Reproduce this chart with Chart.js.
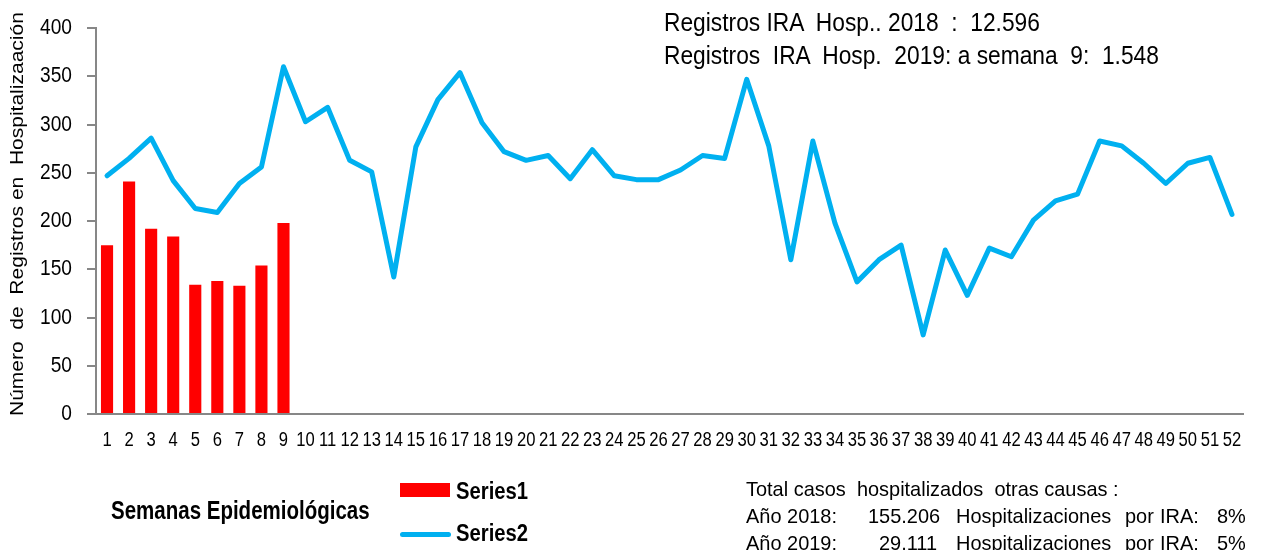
<!DOCTYPE html>
<html>
<head>
<meta charset="utf-8">
<script src="https://cdn.jsdelivr.net/npm/chart.js@4.4.1/dist/chart.umd.min.js"></script>
<style>
  html, body { margin: 0; padding: 0; background: #fff; }
  #wrap { position: relative; width: 1261px; height: 550px; overflow: hidden; }
  #c { position: absolute; left: 0; top: 0; }
  .t { position: absolute; font-family: "Liberation Sans", Arial, sans-serif; color: #000; white-space: pre; line-height: 1; transform-origin: 0 0; }
  .b { font-weight: bold; }
  .ann { font-size: 25.5px; transform: scaleX(0.893); }
  .leg { font-size: 23px; font-weight: bold; transform: scaleX(0.88); }
  .tot { font-size: 21px; transform: scaleX(0.95); }
  .sw { position: absolute; }
</style>
</head>
<body>
<div id="wrap">
  <canvas id="c" width="1261" height="550"></canvas>
  <div class="t ann" style="left:664px; top:9.5px;">Registros IRA  Hosp.. 2018  :  12.596</div>
  <div class="t ann" style="left:664px; top:42.5px;">Registros  IRA  Hosp.  2019: a semana  9:  1.548</div>

  <div class="t b" style="left:111px; top:498px; font-size:25px; transform:scaleX(0.82);">Semanas Epidemiológicas</div>

  <div class="sw" style="left:400px; top:483px; width:50px; height:14px; background:#FF0000;"></div>
  <div class="t leg" style="left:456px; top:479.5px;">Series1</div>
  <div class="sw" style="left:400px; top:532px; width:51px; height:5px; border-radius:3px; background:#00B0F0;"></div>
  <div class="t leg" style="left:456px; top:522px;">Series2</div>

  <div class="t tot" style="left:746px; top:478px;">Total casos  hospitalizados  otras causas :</div>
  <div class="t tot" style="left:746px; top:505px;">Año 2018:</div>
  <div class="t tot" style="left:868px; top:505px;">155.206</div>
  <div class="t tot" style="left:956px; top:505px;">Hospitalizaciones</div>
  <div class="t tot" style="left:1125px; top:505px;">por</div>
  <div class="t tot" style="left:1160px; top:505px;">IRA:</div>
  <div class="t tot" style="left:1217px; top:505px;">8%</div>
  <div class="t tot" style="left:746px; top:532px;">Año 2019:</div>
  <div class="t tot" style="left:879px; top:532px;">29.111</div>
  <div class="t tot" style="left:956px; top:532px;">Hospitalizaciones</div>
  <div class="t tot" style="left:1125px; top:532px;">por</div>
  <div class="t tot" style="left:1160px; top:532px;">IRA:</div>
  <div class="t tot" style="left:1217px; top:532px;">5%</div>
</div>
<script>
const weeks = ['1','2','3','4','5','6','7','8','9','10','11','12','13','14','15','16','17','18','19','20','21','22','23','24','25','26','27','28','29','30','31','32','33','34','35','36','37','38','39','40','41','42','43','44','45','46','47','48','49','50','51','52'];
const series1 = [175, 241, 192, 184, 134, 138, 133, 154, 198];
const series2 = [247, 265, 286, 242, 213, 209, 239, 256, 360, 303, 318, 263, 251, 142, 277, 326, 354,
                 302, 272, 263, 268, 244, 274, 247, 243, 243, 253, 268, 265, 347, 278, 160, 283, 198, 137,
                 160, 175, 82, 170, 123, 172, 163, 201, 221, 228, 283, 278, 260, 239, 260, 266, 207];
const yTicks = [0, 50, 100, 150, 200, 250, 300, 350, 400];
const yTitle = 'Número  de  Registros en  Hospitalizaación';

const FONT = '"Liberation Sans", Arial, sans-serif';
const AXIS = '#878787';

// Condensed-looking text on the canvas (the reference uses a narrow face)
const canvas = document.getElementById('c');
const ctx2d = canvas.getContext('2d');
const origFill = ctx2d.fillText;
ctx2d.fillText = function (text, x, y, maxWidth) {
  const m = this.getTransform();
  const fm = /(\d+(?:\.\d+)?)px/.exec(this.font);
  const size = fm ? parseFloat(fm[1]) : 0;
  const rotated = !(m.b === 0 && m.c === 0);
  let sx = 1, sy = 1, dx = 0;
  if (rotated) { sy = 0.9; dx = 7; }
  else if (size === 20) { sx = 0.83; }
  else if (size === 22) { sx = 0.87; }
  if (sx === 1 && sy === 1) {
    return maxWidth === undefined ? origFill.call(this, text, x, y) : origFill.call(this, text, x, y, maxWidth);
  }
  this.save();
  this.translate(x + dx, y);
  this.scale(sx, sy);
  origFill.call(this, text, 0, 0);
  this.restore();
};

new Chart(canvas, {
  data: {
    labels: weeks,
    datasets: [
      { type: 'line', label: 'Series2', data: series2, borderColor: '#00B0F0', backgroundColor: '#00B0F0',
        borderWidth: 5, pointRadius: 0, tension: 0, order: 1, borderJoinStyle: 'round', borderCapStyle: 'round' },
      { type: 'bar', label: 'Series1', data: series1, backgroundColor: '#FF0000',
        barPercentage: 0.55, categoryPercentage: 1, order: 2 }
    ]
  },
  options: {
    responsive: false,
    animation: false,
    layout: { padding: { top: 22, right: 18, left: 0, bottom: 0 } },
    plugins: { legend: { display: false }, tooltip: { enabled: false } },
    scales: {
      x: {
        type: 'category', offset: true,
        grid: { display: true, drawOnChartArea: false, drawTicks: false },
        border: { display: true, color: AXIS, width: 2 },
        ticks: { color: '#000', font: { family: FONT, size: 20 }, padding: 14, autoSkip: false, maxRotation: 0 },
        afterFit: s => { s.height = 136; }
      },
      y: {
        min: 0, max: 400,
        afterBuildTicks: s => { s.ticks = yTicks.map(v => ({ value: v })); },
        grid: { display: true, drawOnChartArea: false, drawTicks: true, tickLength: 9, color: AXIS, lineWidth: 2 },
        border: { display: true, color: AXIS, width: 2 },
        ticks: { color: '#000', font: { family: FONT, size: 22 }, padding: 15 },
        title: { display: true, text: yTitle, color: '#000', font: { family: FONT, size: 21 }, padding: { top: 5, bottom: 0 } },
        afterFit: s => { s.width = 96; }
      }
    }
  }
});
</script>
</body>
</html>
